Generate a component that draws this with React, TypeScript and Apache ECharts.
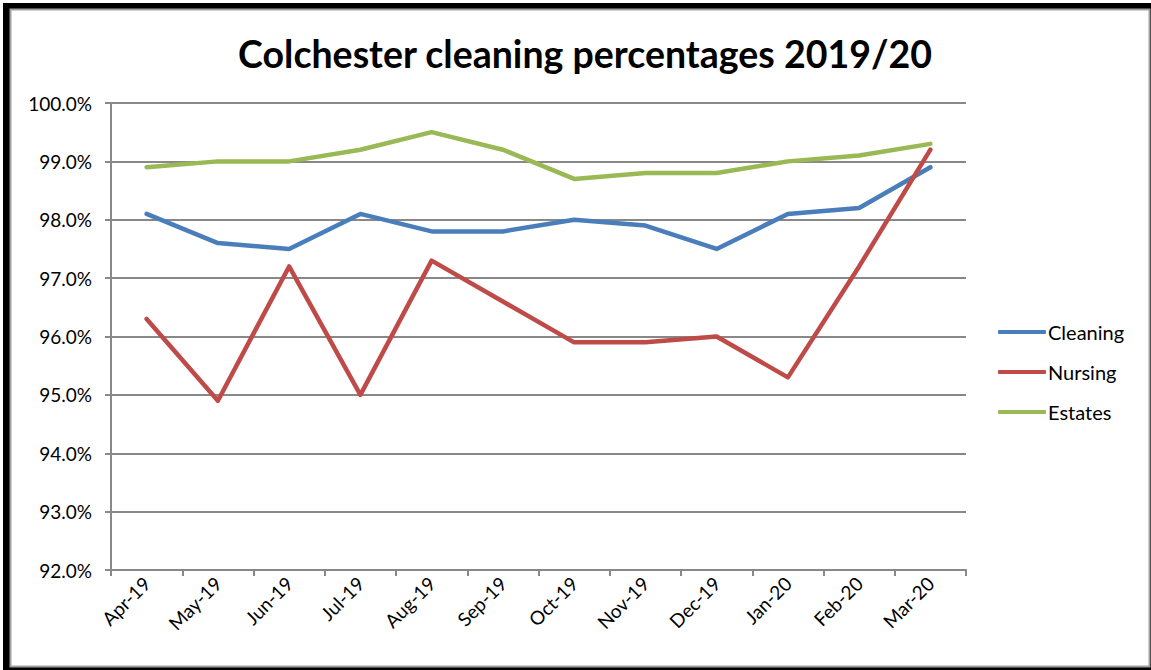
import React, { useEffect, useRef } from "react";
import * as echarts from "echarts";

const months = ["Apr-19", "May-19", "Jun-19", "Jul-19", "Aug-19", "Sep-19", "Oct-19", "Nov-19", "Dec-19", "Jan-20", "Feb-20", "Mar-20"];
const cleaning = [98.1, 97.6, 97.5, 98.1, 97.8, 97.8, 98.0, 97.9, 97.5, 98.1, 98.2, 98.9];
const nursing = [96.3, 94.9, 97.2, 95.0, 97.3, 96.6, 95.9, 95.9, 96.0, 95.3, 97.2, 99.2];
const estates = [98.9, 99.0, 99.0, 99.2, 99.5, 99.2, 98.7, 98.8, 98.8, 99.0, 99.1, 99.3];

const FONT = "Lato, 'Open Sans', sans-serif";

export default function App() {
  const ref = useRef<HTMLDivElement>(null);
  useEffect(() => {
    document.body.style.margin = "0";
    const chart = echarts.init(ref.current!, null, { renderer: "svg" });
    const mk = (name: string, data: number[], color: string) => ({
      name,
      type: "line",
      data,
      symbol: "none",
      lineStyle: { width: 4.5, color, cap: "round", join: "round" },
      itemStyle: { color },
    });
    chart.setOption({
      animation: false,
      backgroundColor: "#fff",
      graphic: [
        { type: "rect", z: -10, shape: { x: 3, y: 3, width: 1148, height: 667 }, style: { fill: "#000" } },
        { type: "rect", z: -9, shape: { x: 10.5, y: 9.5, width: 1139, height: 657 }, style: { fill: "#fff", stroke: "#a0a0a0", lineWidth: 2 } },
      ],
      title: {
        text: "Colchester cleaning percentages 2019/20",
        left: 580,
        textAlign: "center",
        top: 29,
        textStyle: { fontFamily: FONT, fontWeight: "bold", fontSize: 37.5, color: "#000" },
      },
      legend: {
        orient: "vertical",
        left: 993,
        top: 317,
        itemGap: 20,
        itemWidth: 48,
        itemHeight: 4,
        icon: "roundRect",
        textStyle: { fontFamily: FONT, fontSize: 20, color: "#000", padding: [0, 0, 0, -3] },
        data: ["Cleaning", "Nursing", "Estates"],
      },
      grid: { left: 111, right: 185, top: 103, bottom: 100, containLabel: false },
      xAxis: {
        type: "category",
        data: months,
        boundaryGap: true,
        axisLine: { lineStyle: { color: "#888", width: 2 } },
        axisTick: { show: true, alignWithLabel: false, length: 6, lineStyle: { color: "#888", width: 2 } },
        axisLabel: { rotate: 45, fontFamily: FONT, fontSize: 19, color: "#000", margin: 10, interval: 0 },
      },
      yAxis: {
        type: "value",
        min: 92,
        max: 100,
        interval: 1,
        axisLine: { show: true, lineStyle: { color: "#888", width: 2 } },
        axisTick: { show: true, length: 6, lineStyle: { color: "#888", width: 2 } },
        splitLine: { lineStyle: { color: "#888", width: 2 } },
        axisLabel: { fontFamily: FONT, fontSize: 19, color: "#000", margin: 19, formatter: (v: number) => v.toFixed(1) + "%" },
      },
      series: [
        mk("Cleaning", cleaning, "#4a7ebb"),
        mk("Nursing", nursing, "#be4b48"),
        mk("Estates", estates, "#98b954"),
      ],
    });
    return () => chart.dispose();
  }, []);
  return <div ref={ref} style={{ width: 1151, height: 670 }} />;
}
